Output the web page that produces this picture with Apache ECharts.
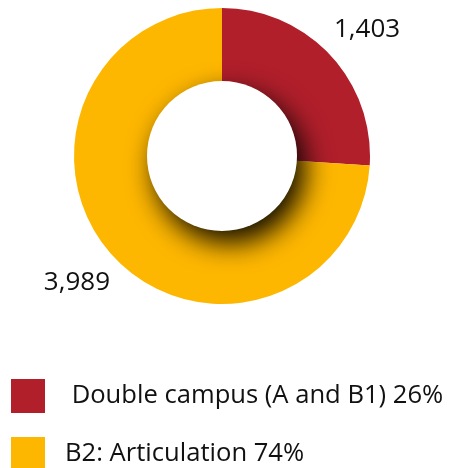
<!DOCTYPE html>
<html>
<head>
<meta charset="utf-8">
<script src="https://cdn.jsdelivr.net/npm/echarts@6/dist/echarts.min.js"></script>
<style>
html,body{margin:0;padding:0;background:#fff;}
#main{width:454px;height:468px;}
</style>
</head>
<body>
<div id="main"></div>
<script>
var categories = ['Double campus (A and B1)', 'B2: Articulation'];
var values = [1403, 3989];
var colors = ['#B11F2B', '#FEB700'];

var total = 0;
for (var i = 0; i < values.length; i++) total += values[i];

var pieData = [];
for (var i = 0; i < values.length; i++) {
	pieData.push({ name: categories[i], value: values[i], itemStyle: { color: colors[i] } });
}

var myChart = echarts.init(document.getElementById('main'));
var option = {
	animation: false,
	legend: {
		orient: 'vertical',
		left: 6,
		top: 374,
		height: 120,
		itemWidth: 34,
		itemHeight: 34,
		itemGap: 24,
		icon: 'rect',
		selectedMode: false,
		data: categories,
		textStyle: {
			fontFamily: 'Open Sans',
			fontSize: 25.6,
			color: '#111',
			padding: [0, 0, 0, 15]
		},
		formatter: function(name) {
			var idx = categories.indexOf(name);
			var pct = Math.round(values[idx] / total * 100);
			return (idx == 0 ? ' ' : '') + name + ' ' + pct + '%';
		}
	},
	series: [{
		type: 'pie',
		center: [222, 156],
		radius: [74, 148],
		startAngle: 90,
		clockwise: true,
		avoidLabelOverlap: false,
		data: pieData,
		label: {
			position: 'outside',
			fontFamily: 'Open Sans',
			fontSize: 26,
			color: '#111',
			formatter: function(p) { return p.value.toLocaleString('en-US'); }
		},
		labelLine: { show: false, length: 37, length2: -28 },
		emphasis: { disabled: true }
	}, {
		// 中间白色圆 + 阴影
		type: 'pie',
		center: [222, 156],
		radius: [0, 75],
		silent: true,
		label: { show: false },
		labelLine: { show: false },
		data: [{ value: 1, itemStyle: { color: '#fff', shadowBlur: 28, shadowColor: 'rgba(0,0,0,0.95)', shadowOffsetX: 8, shadowOffsetY: 12 } }]
	}]
};
myChart.setOption(option);
</script>
</body>
</html>
